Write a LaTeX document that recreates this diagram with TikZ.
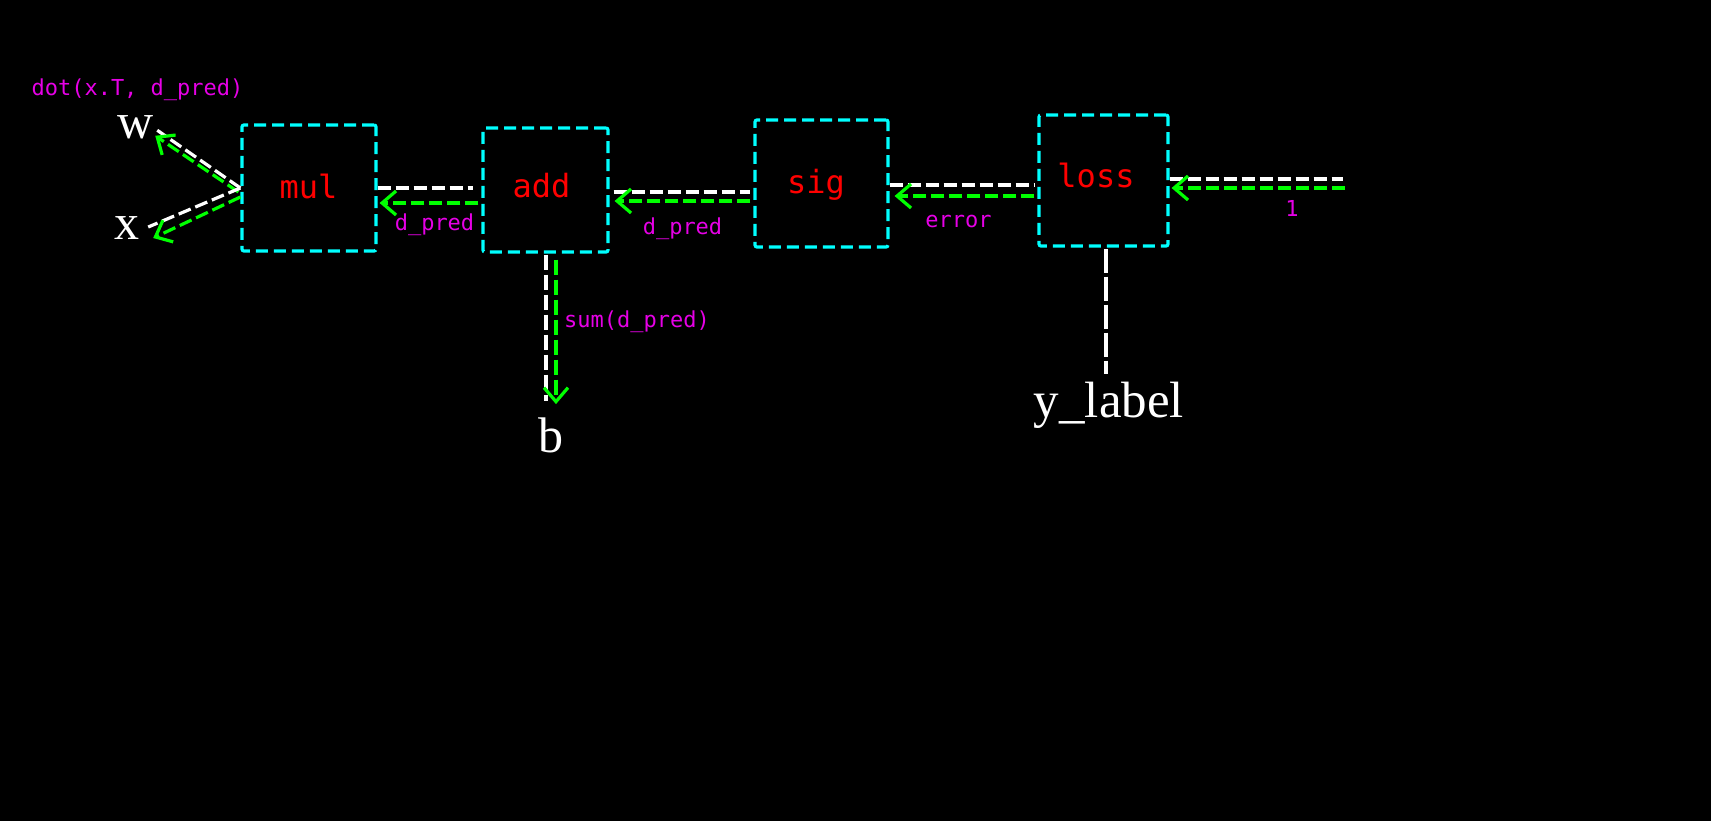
\documentclass[tikz,border=0pt]{standalone}
\usepackage{fontspec}
\setmainfont{Liberation Serif}
\newfontfamily\monof{DejaVu Sans Mono}
\usetikzlibrary{arrows.meta,calc}
\definecolor{cy}{RGB}{0,255,255}
\definecolor{rd}{RGB}{255,0,0}
\definecolor{mg}{RGB}{230,0,230}
\definecolor{gr}{RGB}{0,255,0}
\begin{document}
\begin{tikzpicture}[x=1pt,y=-1pt,
 box/.style={draw=cy,line width=3.2pt,dash pattern=on 12pt off 6pt,rounded corners=2pt,inner sep=0pt},
 op/.style={text=rd,font=\monof\fontsize{32}{38}\selectfont,inner sep=0pt,anchor=base},
 var/.style={text=white,font=\fontsize{50}{60}\selectfont,inner sep=0pt,anchor=base},
 grad/.style={text=mg,font=\monof\fontsize{22}{26}\selectfont,inner sep=0pt,anchor=base},
 fwd/.style={draw=white,line width=3.2pt,dash pattern=on 13pt off 5pt},
 bwd/.style={draw=gr,line width=3.2pt,dash pattern=on 13pt off 5pt,-{Straight Barb[length=14pt,width=24pt]}},
]
\fill[black] (0,0) rectangle (1711,821);
\useasboundingbox (0,0) rectangle (1711,821);

% boxes
\node[box,minimum width=134pt,minimum height=126pt] (mul) at (309,188) {};
\node[box,minimum width=125pt,minimum height=124pt] (add) at (545.5,190) {};
\node[box,minimum width=133pt,minimum height=127pt] (sig) at (821.5,183.5) {};
\node[box,minimum width=129pt,minimum height=131pt] (loss) at (1103.5,180.5) {};

% operation names
\node[op] (mult) at (308.5,199) {mul};
\node[op] (addt) at (541.5,198) {add};
\node[op] (sigt) at (816,194) {sig};
\node[op] (losst) at (1096,188) {loss};

% variables
\node[var] (w) at (136,139) {w};
\node[var] (x) at (127,240) {x};
\node[var] (b) at (551,452) {b};
\node[var,font=\fontsize{51}{60}\selectfont] (yl) at (1109,417) {y\_label};
\coordinate (in) at (1345,179);

% gradient labels
\node[grad] (gw) at (137.5,96) {dot(x.T, d\_pred)};
\node[grad] (g1) at (434.5,231) {d\_pred};
\node[grad] (g2) at (682.5,235) {d\_pred};
\node[grad] (g3) at (958.5,228) {error};
\node[grad] (g4) at (1292,217) {1};
\node[grad] (g5) at (637,327) {sum(d\_pred)};

% mul -- w, x
\draw[fwd] (mul.west) -- ($(w.east)+(3,2.5)$);
\draw[bwd] ($(mul.west)+(-2,4)$) -- ($(w.east)+(1,8)$);
\draw[fwd] (mul.west) -- ($(x.east)+(8.5,-1.5)$);
\draw[bwd] ($(mul.west)+(0,9)$) -- ($(x.east)+(13.5,9.5)$);

% add -- mul
\draw[fwd] (mul.east) -- ($(mul.east -| add.west)+(-8,0)$);
\draw[bwd] ($(add.west)+(-3,13)$) -- ($(add.west -| mul.east)+(2,13)$);

% sig -- add
\draw[fwd] ($(add.east)+(4,2)$) -- ($(add.east -| sig.west)+(-3,2)$);
\draw[bwd] ($(add.east -| sig.west)+(-3,11)$) -- ($(add.east)+(5,11)$);

% loss -- sig
\draw[fwd] ($(sig.east)+(0,1.5)$) -- ($(sig.east -| loss.west)+(-3,1.5)$);
\draw[bwd] ($(sig.east -| loss.west)+(-3,12.5)$) -- ($(sig.east)+(5,12.5)$);

% input -- loss
\draw[fwd] ($(loss.east)+(0,-1.5)$) -- ($(in)+(-2,0)$);
\draw[bwd] ($(in)+(0,9)$) -- ($(loss.east)+(2,7.5)$);

% add -- b
\draw[fwd,dash pattern=on 15pt off 5pt] ($(add.south)+(0.5,1)$) -- ($(add.south |- b.north)+(0.5,-16)$);
\draw[bwd,dash pattern=on 15pt off 5pt] ($(add.south)+(10.5,6)$) -- ($(add.south |- b.north)+(10.5,-13)$);

% loss -- y_label
\draw[fwd,dash pattern=on 24pt off 4pt] ($(loss.south)+(2.5,1)$) -- ($(loss.south |- yl.north)+(2.5,-7)$);
\end{tikzpicture}
\end{document}
